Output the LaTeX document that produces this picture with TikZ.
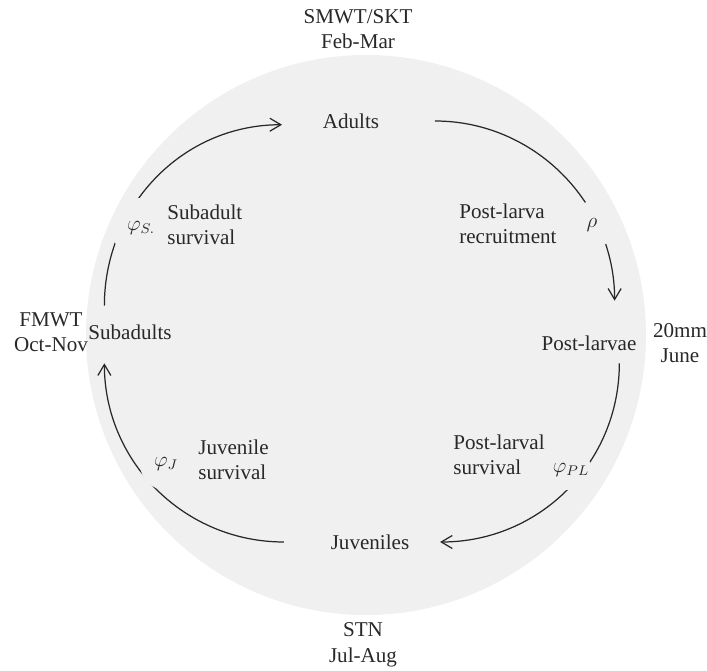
\documentclass[tikz,border=0pt,12pt]{standalone}
\usepackage{fontspec}
\setmainfont{Liberation Serif}
\usepackage{tikz}
\usetikzlibrary{arrows.meta}
\definecolor{lcgray}{RGB}{240,240,240}
\definecolor{lcink}{RGB}{40,40,40}
\tikzstyle{lifearrow} = [line width=0.7pt, color=lcink, -{Straight Barb[length=2.2mm,width=2.6mm]}]
\tikzstyle{stage} = [text=lcink]
\tikzstyle{survey} = [align=center, inner sep=0pt, text=lcink]
\tikzstyle{process} = [align=left, anchor=west, inner sep=0pt, text=lcink]
\tikzstyle{param} = [circle, fill=lcgray, inner sep=0pt, text=lcink]

\begin{document}
\begin{tikzpicture}[x=0.02cm, y=0.02cm]
\path[use as bounding box] (0,0) rectangle (707,670);
% grey ring behind the cycle
\fill[lcgray] (366,335) circle [radius=280];

% life stages
\node[stage] (adults) at (351,549) {Adults};
\node[stage] (postlarvae) at (589,327) {Post-larvae};
\node[stage] (juveniles) at (370,128) {Juveniles};
\node[stage] (subadults) at (130,338) {Subadults};

% surveys and months
\node[survey] (smwt) at (358,641) {SMWT/SKT\\Feb-Mar};
\node[survey] (twentymm) at (680,327) {20mm\\June};
\node[survey] (stn) at (363,25) {STN\\Jul-Aug};
\node[survey] (fmwt) at (51,338) {FMWT\\Oct-Nov};

% transitions
\draw[lifearrow, shorten <=0.97cm, shorten >=0.55cm] (adults.east) to[out=0, in=90, out looseness=1.23, in looseness=1.04] (postlarvae.30);
\draw[lifearrow, shorten <=0.11cm, shorten >=0.47cm] (postlarvae.-26) to[out=-90, in=0, out looseness=0.98, in looseness=1.15] (juveniles.east);
\draw[lifearrow, shorten <=0.79cm, shorten >=0.33cm] (juveniles.west) to[out=180, in=-90, out looseness=1.21, in looseness=1.0] (subadults.210);
\draw[lifearrow, shorten <=0.23cm, shorten >=0.67cm] (subadults.150) to[out=90, in=180, out looseness=0.99, in looseness=1.19] (adults.186);

% rates (they mask the arcs)
\node[param, minimum size=0.94cm] (rho) at (592,445) {$\rho$};
\node[param, minimum size=0.82cm] (phipl) at (571,200) {$\varphi_{PL}$};
\node[param, minimum size=1.04cm] (phij) at (166,206) {$\varphi_{J}$};
\node[param, minimum size=1.2cm] (phis) at (141,442) {$\varphi_{S.}$};

% processes
\node[process] (recruit) at (459,446) {Post-larva\\recruitment};
\node[process] (plsurv) at (453,215) {Post-larval\\survival};
\node[process] (juvsurv) at (198,210) {Juvenile\\survival};
\node[process] (subsurv) at (167,445) {Subadult\\survival};
\end{tikzpicture}
\end{document}
